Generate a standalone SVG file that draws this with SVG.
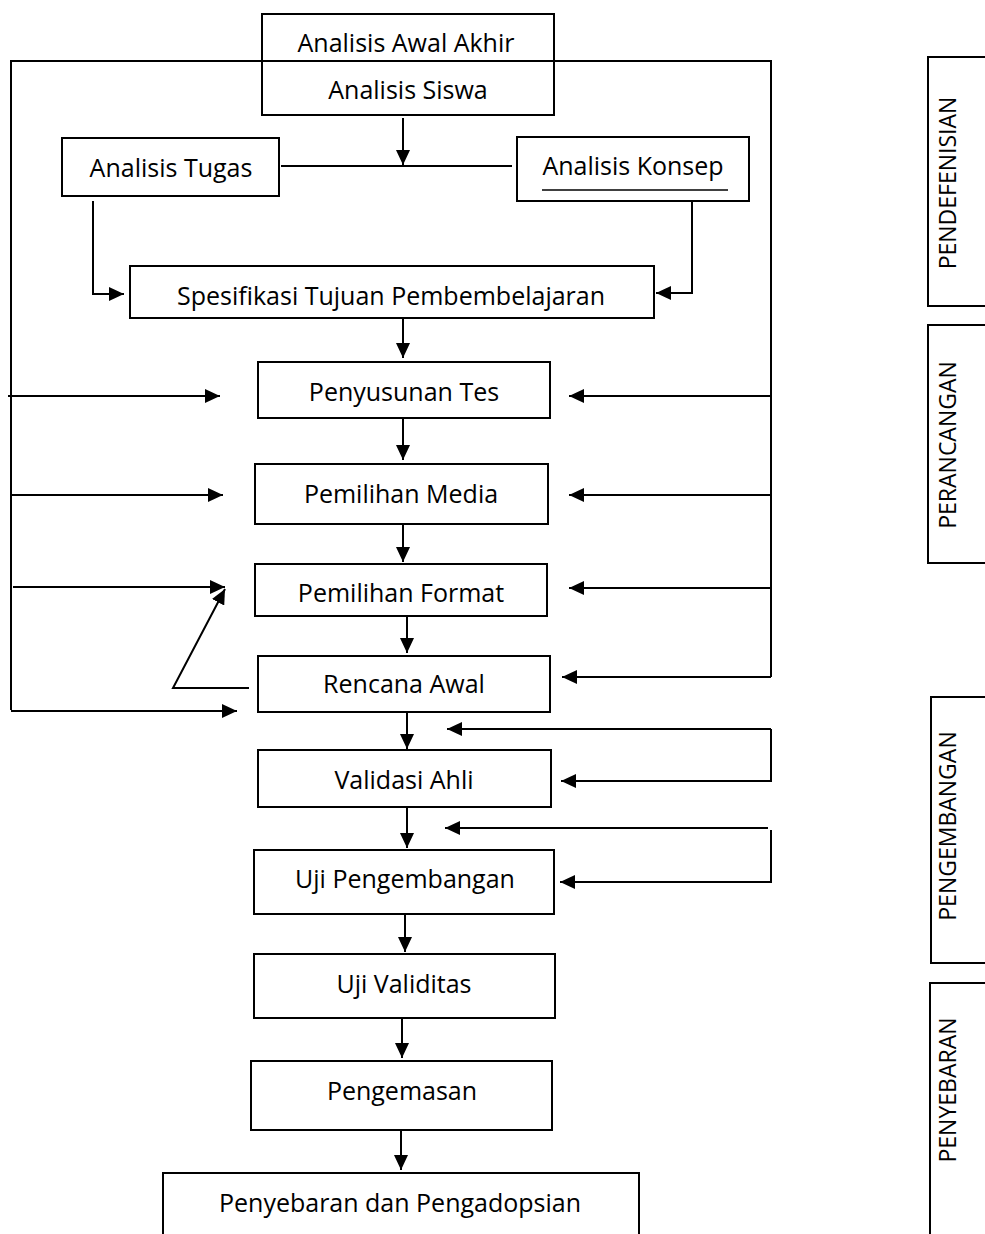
<svg xmlns="http://www.w3.org/2000/svg" width="985" height="1234" viewBox="0 0 985 1234">
<style>
  .box { fill: #ffffff; stroke: #000000; stroke-width: 2; }
  .lbl { font-family: "Open Sans", "Liberation Sans", sans-serif; font-size: 25px; fill: #000000; text-anchor: middle; }
  .side { font-family: "Open Sans", "Liberation Sans", sans-serif; font-size: 23px; fill: #000000; text-anchor: middle; dominant-baseline: central; }
  .ln { fill: none; stroke: #000000; stroke-width: 2; }
  .arr { fill: none; stroke: #000000; stroke-width: 2; marker-end: url(#ah); }
</style>
<defs>
  <marker id="ah" markerUnits="userSpaceOnUse" markerWidth="16" markerHeight="14" refX="15" refY="7" orient="auto">
    <path d="M0,0 L15,7 L0,14 Z" fill="#000000"/>
  </marker>
</defs>
<rect x="0" y="0" width="985" height="1234" fill="#ffffff"/>

<g id="n-awal-akhir">
  <rect class="box" x="262" y="14" width="292" height="47"/>
  <text class="lbl" x="406" y="52">Analisis Awal Akhir</text>
</g>
<g id="n-siswa">
  <rect class="box" x="262" y="61" width="292" height="54"/>
  <text class="lbl" x="408" y="99">Analisis Siswa</text>
</g>
<g id="n-tugas">
  <rect class="box" x="62" y="138" width="217" height="58"/>
  <text class="lbl" x="171" y="177">Analisis Tugas</text>
</g>
<g id="n-konsep">
  <rect class="box" x="517" y="137" width="232" height="64"/>
  <text class="lbl" x="633" y="175">Analisis Konsep</text>
  <line x1="542" y1="190" x2="728" y2="190" stroke="#000000" stroke-width="1.5"/>
</g>
<g id="n-spesifikasi">
  <rect class="box" x="130" y="266" width="524" height="52"/>
  <text class="lbl" x="391" y="305">Spesifikasi Tujuan Pembembelajaran</text>
</g>
<g id="n-tes">
  <rect class="box" x="258" y="362" width="292" height="56"/>
  <text class="lbl" x="404" y="401">Penyusunan Tes</text>
</g>
<g id="n-media">
  <rect class="box" x="255" y="464" width="293" height="60"/>
  <text class="lbl" x="401" y="503">Pemilihan Media</text>
</g>
<g id="n-format">
  <rect class="box" x="255" y="564" width="292" height="52"/>
  <text class="lbl" x="401" y="602">Pemilihan Format</text>
</g>
<g id="n-rencana">
  <rect class="box" x="258" y="656" width="292" height="56"/>
  <text class="lbl" x="404" y="693">Rencana Awal</text>
</g>
<g id="n-validasi">
  <rect class="box" x="258" y="750" width="293" height="57"/>
  <text class="lbl" x="404" y="789">Validasi Ahli</text>
</g>
<g id="n-ujipeng">
  <rect class="box" x="254" y="850" width="300" height="64"/>
  <text class="lbl" x="405" y="888">Uji Pengembangan</text>
</g>
<g id="n-ujival">
  <rect class="box" x="254" y="954" width="301" height="64"/>
  <text class="lbl" x="404" y="993">Uji Validitas</text>
</g>
<g id="n-pengemasan">
  <rect class="box" x="251" y="1061" width="301" height="69"/>
  <text class="lbl" x="402" y="1100">Pengemasan</text>
</g>
<g id="n-penyebaran">
  <rect class="box" x="163" y="1173" width="476" height="80"/>
  <text class="lbl" x="400" y="1212">Penyebaran dan Pengadopsian</text>
</g>

<g id="s-pendefenisian">
  <rect class="box" x="928" y="57" width="70" height="249"/>
  <text class="side" transform="translate(947,183) rotate(-90)">PENDEFENISIAN</text>
</g>
<g id="s-perancangan">
  <rect class="box" x="928" y="325" width="70" height="238"/>
  <text class="side" transform="translate(947,445) rotate(-90)">PERANCANGAN</text>
</g>
<g id="s-pengembangan">
  <rect class="box" x="931" y="697" width="70" height="266"/>
  <text class="side" transform="translate(947,826) rotate(-90)">PENGEMBANGAN</text>
</g>
<g id="s-penyebaran">
  <rect class="box" x="930" y="983" width="70" height="270"/>
  <text class="side" transform="translate(947,1090) rotate(-90)">PENYEBARAN</text>
</g>

<g id="connectors">
  <!-- outer loop -->
  <path class="ln" d="M11,710 V61 H771 V677"/>
  <path class="arr" d="M8,396 H220"/>
  <path class="arr" d="M11,495 H223"/>
  <path class="arr" d="M13,587 H225"/>
  <path class="arr" d="M11,711 H237"/>
  <path class="arr" d="M771,396 H569"/>
  <path class="arr" d="M771,495 H569"/>
  <path class="arr" d="M771,588 H569"/>
  <path class="arr" d="M771,677 H562"/>
  <!-- top analysis -->
  <path class="arr" d="M403,118 V165"/>
  <path class="ln" d="M281,166 H512"/>
  <path class="arr" d="M93,201 V294 H124"/>
  <path class="arr" d="M692,201 V293 H656"/>
  <!-- main flow -->
  <path class="arr" d="M403,318 V358"/>
  <path class="arr" d="M403,418 V460"/>
  <path class="arr" d="M403,524 V562"/>
  <path class="arr" d="M407,616 V653"/>
  <path class="arr" d="M249,688 H173 L225,589"/>
  <path class="arr" d="M407,712 V749"/>
  <path class="arr" d="M771,729 H447"/>
  <path class="arr" d="M771,729 V781 H561"/>
  <path class="arr" d="M407,807 V848"/>
  <path class="arr" d="M768,828 H445"/>
  <path class="arr" d="M771,830 V882 H560"/>
  <path class="arr" d="M405,914 V952"/>
  <path class="arr" d="M402,1018 V1058"/>
  <path class="arr" d="M401,1130 V1170"/>
</g>
</svg>
